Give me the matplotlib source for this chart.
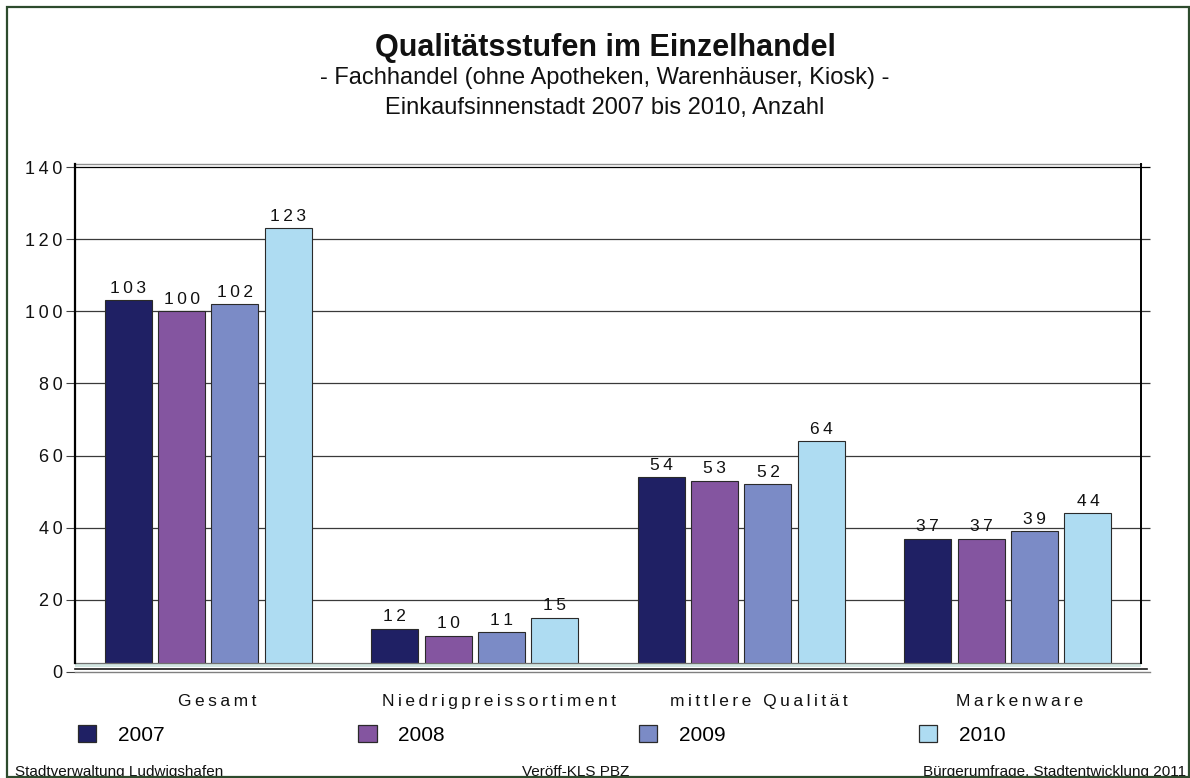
import matplotlib
matplotlib.use("Agg")
import matplotlib.pyplot as plt
from matplotlib.patches import Patch, Rectangle
import numpy as np

# ---------------- data ----------------
categories = ["Gesamt", "Niedrigpreissortiment", "mittlere Qualität", "Markenware"]
years = ["2007", "2008", "2009", "2010"]
v2007 = [103, 12, 54, 37]
v2008 = [100, 10, 53, 37]
v2009 = [102, 11, 52, 39]
v2010 = [123, 15, 64, 44]
series = [v2007, v2008, v2009, v2010]
colors = ["#1f2064", "#8455a0", "#7b8bc6", "#aedcf2"]
yticks = [0, 20, 40, 60, 80, 100, 120, 140]

title = "Qualitätsstufen im Einzelhandel"
subtitle1 = "- Fachhandel (ohne Apotheken, Warenhäuser, Kiosk) -"
subtitle2 = "Einkaufsinnenstadt 2007 bis 2010, Anzahl"
foot_left = "Stadtverwaltung Ludwigshafen"
foot_mid = "Veröff-KLS PBZ"
foot_right = "Bürgerumfrage, Stadtentwicklung 2011"

FONT = ["Liberation Sans", "DejaVu Sans"]
plt.rcParams["font.family"] = FONT
TS = "\u2009"


def spaced(s):
    return TS.join(s)


W, H = 1190, 778
fig = plt.figure(figsize=(W / 100, H / 100), dpi=100)
fig.patch.set_facecolor("white")

# axes placement (pixel based)
L, R, T, B = 75, 1141, 167, 672
ax = fig.add_axes([L / W, (H - B) / H, (R - L) / W, (B - T) / H])
ax.set_xlim(-0.5, 3.5)
ax.set_ylim(0, 140)
for s in ax.spines.values():
    s.set_visible(False)
ax.set_facecolor("none")

x = np.arange(len(categories))
pitch = 0.2007
bw = 0.1764
offsets = (np.arange(4) - 1.5) * pitch

# gridlines (extend a bit past right wall)
xr_ext = 3.5 + 9 / 266.5
for v in yticks[1:]:
    ax.plot([-0.5, xr_ext], [v, v], color="#000000" if v == 140 else "#3a3a3a",
            lw=0.9, clip_on=False, zorder=1, solid_capstyle="butt")

# bars
for i, (vals, c) in enumerate(zip(series, colors)):
    ax.bar(x + offsets[i], vals, width=bw, color=c, edgecolor="#2a2a2a",
           linewidth=0.8, zorder=2)
    for xi, v in zip(x + offsets[i], vals):
        ax.annotate(spaced(str(v)), (xi, v), xytext=(0, 5.4), textcoords="offset points",
                    ha="center", va="baseline", fontsize=12.5, color="#111111", zorder=5)

# back wall / floor
floor_top = 2.6
ax.fill_between([-0.5, 3.5], 0, floor_top, color="white", zorder=3, lw=0)
ax.fill_between([-0.5, 3.5], 1.3, floor_top, color="#d2e6e2", zorder=3, lw=0)
ax.plot([-0.5, 3.5], [floor_top, floor_top], color="#707070", lw=0.9, zorder=4, clip_on=False)
ax.plot([-0.5, 3.5 + 6 / 266.5], [0.95, 0.95], color="#1a1a1a", lw=1.2, zorder=4, clip_on=False)
ax.plot([-0.5, xr_ext], [0, 0], color="#808080", lw=1.0, zorder=4, clip_on=False)
ax.plot([-0.5, 3.5], [140.8, 140.8], color="#909090", lw=1.0, zorder=4, clip_on=False)
ax.plot([-0.5, -0.5], [floor_top, 140.8], color="#000000", lw=1.6, zorder=4, clip_on=False)
ax.plot([3.5, 3.5], [floor_top, 140.8], color="#000000", lw=1.4, zorder=4, clip_on=False)

# y ticks
ax.set_yticks(yticks, labels=[spaced(str(t)) for t in yticks])
ax.tick_params(axis="y", length=6.5, width=0.8, color="#404040", pad=2.5,
               labelsize=13, labelcolor="#111111")
ax.set_xticks([])

# category labels
label_shift_px = [9, 24, 18, 12]
for xi, cat, sh in zip(x, categories, label_shift_px):
    ax.annotate(spaced(cat), (xi, 0), xycoords=("data", "axes fraction"),
                xytext=(sh * 0.72, -34 * 0.72), textcoords="offset points",
                ha="center", va="baseline", fontsize=12.5, color="#111111")

# legend
handles = [Patch(facecolor=c, edgecolor="#2a2a2a", linewidth=0.9) for c in colors]
fig.legend(handles, years, ncol=4, loc="center left",
           bbox_to_anchor=(78 / W, (H - 735) / H), frameon=False, fontsize=15,
           handlelength=0.87, handleheight=0.87, handletextpad=1.05,
           columnspacing=9.3, borderpad=0, borderaxespad=0)

# titles
cx = 605 / W
fig.text(cx, (H - 56) / H, title, ha="center", va="baseline", fontsize=22,
         fontweight="bold", color="#111111")
fig.text(cx, (H - 84) / H, subtitle1, ha="center", va="baseline", fontsize=17,
         color="#111111")
fig.text(cx, (H - 114) / H, subtitle2, ha="center", va="baseline", fontsize=17,
         color="#111111")

# footer
fig.text(15 / W, 2 / H, foot_left, ha="left", va="baseline", fontsize=11, color="#111111")
fig.text(576 / W, 2 / H, foot_mid, ha="center", va="baseline", fontsize=11, color="#111111")
fig.text(1186 / W, 2 / H, foot_right, ha="right", va="baseline", fontsize=11, color="#111111")

# outer border
fig.add_artist(Rectangle((7 / W, 1.5 / H), (1188.5 - 7) / W, (H - 1.5 - 7) / H,
                         transform=fig.transFigure, fill=False, edgecolor="#2d4b2d",
                         linewidth=1.6, zorder=10))

fig.savefig("out.png", dpi=100, facecolor="white")
